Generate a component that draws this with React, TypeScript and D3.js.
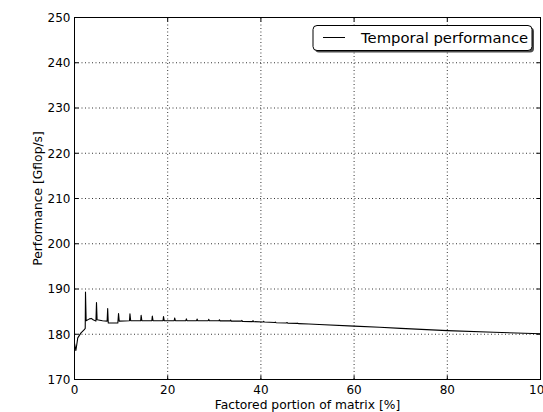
import React from "react";
import * as d3 from "d3";

const xValues = [
  0, 0.3, 0.7, 1.4, 2.1, 2.3, 2.36, 2.5, 3.2, 3.6, 4.0, 4.6, 4.72, 4.85, 6.0, 7.0, 7.12, 7.25,
  9.3, 9.45, 9.6, 11.8, 11.9, 12.05, 14.2, 14.3, 14.45, 16.6, 16.7, 16.85, 19.0, 19.1, 19.25,
  21.4, 21.5, 21.65, 23.9, 24.0, 24.15, 26.2, 26.3, 26.45, 28.7, 28.8, 28.95, 31.0, 31.1, 31.25,
  33.4, 33.5, 33.65, 35.8, 35.9, 36.05, 38.2, 38.3, 38.45, 40.5, 40.6, 40.75, 43.0, 43.1, 43.25,
  45.5, 45.6, 45.75, 47.8, 47.9, 48.05, 50.3, 52.5, 60, 65.5, 70, 80, 90, 100,
];
const perfValues = [
  178.0, 176.4, 179.2, 180.3, 181.0, 181.3, 189.3, 183.0, 183.4, 183.5, 183.2, 182.9, 187.0, 183.2, 183.0, 182.9, 185.7, 182.5,
  182.5, 184.6, 182.9, 183.0, 184.5, 183.0, 183.0, 184.2, 183.0, 183.0, 184.0, 183.0, 183.0, 183.9, 183.0,
  183.0, 183.6, 183.0, 183.0, 183.4, 183.0, 183.0, 183.35, 183.0, 183.0, 183.3, 183.0, 183.0, 183.2, 182.95,
  182.95, 183.15, 182.9, 182.9, 183.05, 182.85, 182.8, 183.0, 182.8, 182.7, 182.85, 182.7, 182.6, 182.7, 182.55,
  182.5, 182.6, 182.45, 182.4, 182.45, 182.35, 182.25, 182.15, 181.8, 181.55, 181.3, 180.8, 180.45, 180.1,
];
const xTicks = [0, 20, 40, 60, 80, 100];
const yTicks = [170, 180, 190, 200, 210, 220, 230, 240, 250];
const seriesName = "Temporal performance";
const xLabel = "Factored portion of matrix [%]";
const yLabel = "Performance [Gflop/s]";

const W = 543;
const H = 412;
const L = 74.5, R = 540.5, T = 17.5, B = 379.5;
const FONT = "DejaVu Sans, sans-serif";

export default function App() {
  const x = d3.scaleLinear().domain([0, 100]).range([L, R]);
  const y = d3.scaleLinear().domain([170, 250]).range([B, T]);
  const pts = xValues.map((v, i) => [v, perfValues[i]] as [number, number]);
  const line = d3.line<[number, number]>().x((d) => x(d[0])).y((d) => y(d[1]));

  return (
    <svg width={W} height={H} style={{ position: "absolute", left: 0, top: 0, background: "#fff" }}>
      <defs>
        <clipPath id="plotclip">
          <rect x={L} y={T} width={R - L} height={B - T} />
        </clipPath>
      </defs>
      <rect x={0} y={0} width={W} height={H} fill="#fff" />
      {/* grid */}
      <g stroke="#000" strokeWidth={0.8} strokeDasharray="1,2.5">
        {xTicks.slice(1, -1).map((t) => (
          <line key={"gx" + t} x1={x(t)} x2={x(t)} y1={T} y2={B} />
        ))}
        {yTicks.slice(1, -1).map((t) => (
          <line key={"gy" + t} x1={L} x2={R} y1={y(t)} y2={y(t)} />
        ))}
      </g>
      {/* data */}
      <path d={line(pts) || ""} fill="none" stroke="#000" strokeWidth={1.1} clipPath="url(#plotclip)" strokeLinejoin="round" />
      {/* frame */}
      <rect x={L} y={T} width={R - L} height={B - T} fill="none" stroke="#000" strokeWidth={1} />
      {/* ticks */}
      <g stroke="#000" strokeWidth={1}>
        {xTicks.map((t) => (
          <g key={"tx" + t}>
            <line x1={x(t)} x2={x(t)} y1={B} y2={B - 4} />
            <line x1={x(t)} x2={x(t)} y1={T} y2={T + 4} />
          </g>
        ))}
        {yTicks.map((t) => (
          <g key={"ty" + t}>
            <line x1={L} x2={L + 4} y1={y(t)} y2={y(t)} />
            <line x1={R} x2={R - 4} y1={y(t)} y2={y(t)} />
          </g>
        ))}
      </g>
      {/* tick labels */}
      <g fontFamily={FONT} fontSize={12} fill="#000">
        {xTicks.map((t) => (
          <text key={"lx" + t} x={x(t)} y={393.5} textAnchor="middle">
            {t}
          </text>
        ))}
        {yTicks.map((t) => (
          <text key={"ly" + t} x={L - 4} y={y(t) + 4.3} textAnchor="end">
            {t}
          </text>
        ))}
      </g>
      {/* axis labels */}
      <text x={(L + R) / 2} y={409} textAnchor="middle" fontFamily={FONT} fontSize={12.3} fill="#000">
        {xLabel}
      </text>
      <text
        transform={`translate(41.5,${(T + B) / 2}) rotate(-90)`}
        textAnchor="middle"
        fontFamily={FONT}
        fontSize={12.3}
        fill="#000"
      >
        {yLabel}
      </text>
      {/* legend */}
      <g>
        <rect x={315} y={27.5} width={219} height={25} rx={4} fill="#4d4d4d" />
        <rect x={313} y={25.5} width={219} height={25} rx={4} fill="#fff" stroke="#000" strokeWidth={1} />
        <line x1={323} x2={345} y1={37.5} y2={37.5} stroke="#000" strokeWidth={1} />
        <text x={361} y={42.5} fontFamily={FONT} fontSize={14.8} fill="#000">
          {seriesName}
        </text>
      </g>
    </svg>
  );
}
